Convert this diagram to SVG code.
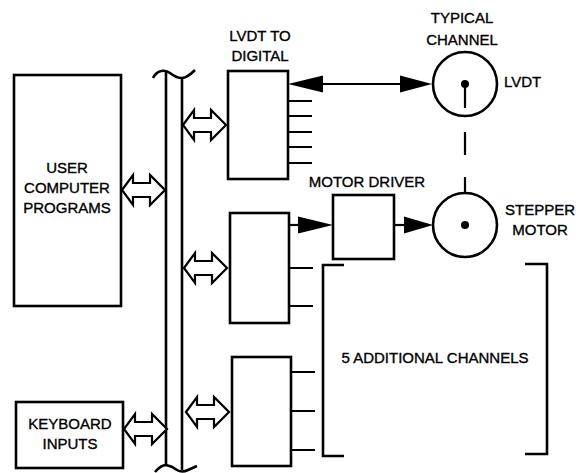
<svg xmlns="http://www.w3.org/2000/svg" width="586" height="473" viewBox="0 0 586 473">
<style>
.b{fill:none;stroke:#000;stroke-width:2.6}
.l{fill:none;stroke:#000;stroke-width:2.2}
.h{fill:#fff;stroke:#000;stroke-width:2.2;stroke-linejoin:miter}
.t{font-family:"Liberation Sans",Arial,sans-serif;font-size:15px;fill:#000;stroke:#000;stroke-width:0.35;text-anchor:middle}
.ah{fill:#000}
</style>
<defs>
<path id="dblarrow" class="h" d="M0,0 L11,-15 L11,-7 L28,-7 L28,-15 L43,0 L28,15 L28,7 L11,7 L11,15 Z"/>
</defs>
<rect width="586" height="473" fill="#fff"/>
<g id="bus">
<path class="b" d="M166,72 L166,466 M182,77 L182,470"/>
<path class="b" d="M153,78 C157,70 165,69 170,73 C175,77 179,78 182,78 C186,78 190,75 195,70"/>
<path class="b" d="M155,472 Q161,465 166,465 Q172,466 177,470 Q182,473 188,470 L197,466"/>
</g>
<g id="user">
<rect class="b" x="14" y="75" width="107" height="231"/>
<text class="t" x="67" y="173">USER</text>
<text class="t" x="67" y="193">COMPUTER</text>
<text class="t" x="67" y="213">PROGRAMS</text>
</g>
<g id="keyboard">
<rect class="b" x="16" y="402" width="107" height="66"/>
<text class="t" x="70" y="429">KEYBOARD</text>
<text class="t" x="70" y="449">INPUTS</text>
</g>
<g id="lvdt2dig">
<rect class="b" x="228" y="71" width="60" height="108"/>
<text class="t" x="260" y="41">LVDT TO</text>
<text class="t" x="260" y="61">DIGITAL</text>
</g>
<g id="ch2">
<rect class="b" x="230" y="213" width="59" height="110"/>
</g>
<g id="ch3">
<rect class="b" x="232" y="357" width="59" height="109"/>
</g>
<g id="motordriver">
<rect class="b" x="333" y="195" width="61" height="64"/>
<text class="t" x="367" y="187">MOTOR DRIVER</text>
</g>
<g id="lvdt">
<circle class="b" cx="465" cy="84" r="32"/>
<circle cx="465" cy="84" r="4"/>
<line class="l" x1="465" y1="84" x2="465" y2="108"/>
<text class="t" x="462" y="23">TYPICAL</text>
<text class="t" x="462" y="45">CHANNEL</text>
<text class="t" x="504" y="87" style="text-anchor:start">LVDT</text>
</g>
<g id="stepper">
<circle class="b" cx="465" cy="225" r="32"/>
<circle cx="465" cy="225" r="4"/>
<text class="t" x="540" y="215">STEPPER</text>
<text class="t" x="540" y="235">MOTOR</text>
</g>
<g id="additional">
<path class="b" d="M344,265 L323,265 L323,456 L344,456"/>
<path class="b" d="M525,264 L547,264 L547,454 L525,454"/>
<text class="t" x="435" y="363">5 ADDITIONAL CHANNELS</text>
</g>
<g id="connectors">
<use href="#dblarrow" transform="translate(122,190)"/>
<use href="#dblarrow" transform="translate(183,125)"/>
<use href="#dblarrow" transform="translate(184,268)"/>
<use href="#dblarrow" transform="translate(186,412)"/>
<use href="#dblarrow" transform="translate(124,429)"/>
<line class="l" x1="323" y1="84" x2="400" y2="84"/>
<polygon class="ah" points="288,84 323,75.5 323,92.5"/>
<polygon class="ah" points="432,84 400,75.5 400,92.5"/>
<path class="l" d="M288,101 H312 M288,116 H312 M288,132 H312 M288,147 H312 M288,163 H312"/>
<line class="l" x1="289" y1="225" x2="300" y2="225"/>
<polygon class="ah" points="333,225 298,216.5 298,233.5"/>
<line class="l" x1="394" y1="225" x2="405" y2="225"/>
<polygon class="ah" points="433,225 404,216.5 404,233.5"/>
<path class="l" d="M289,268 H313 M289,306 H313"/>
<path class="l" d="M291,372 H315 M291,411 H315 M291,450 H315"/>
<path class="l" d="M465,132 V155 M465,177 V193"/>
</g>
</svg>
